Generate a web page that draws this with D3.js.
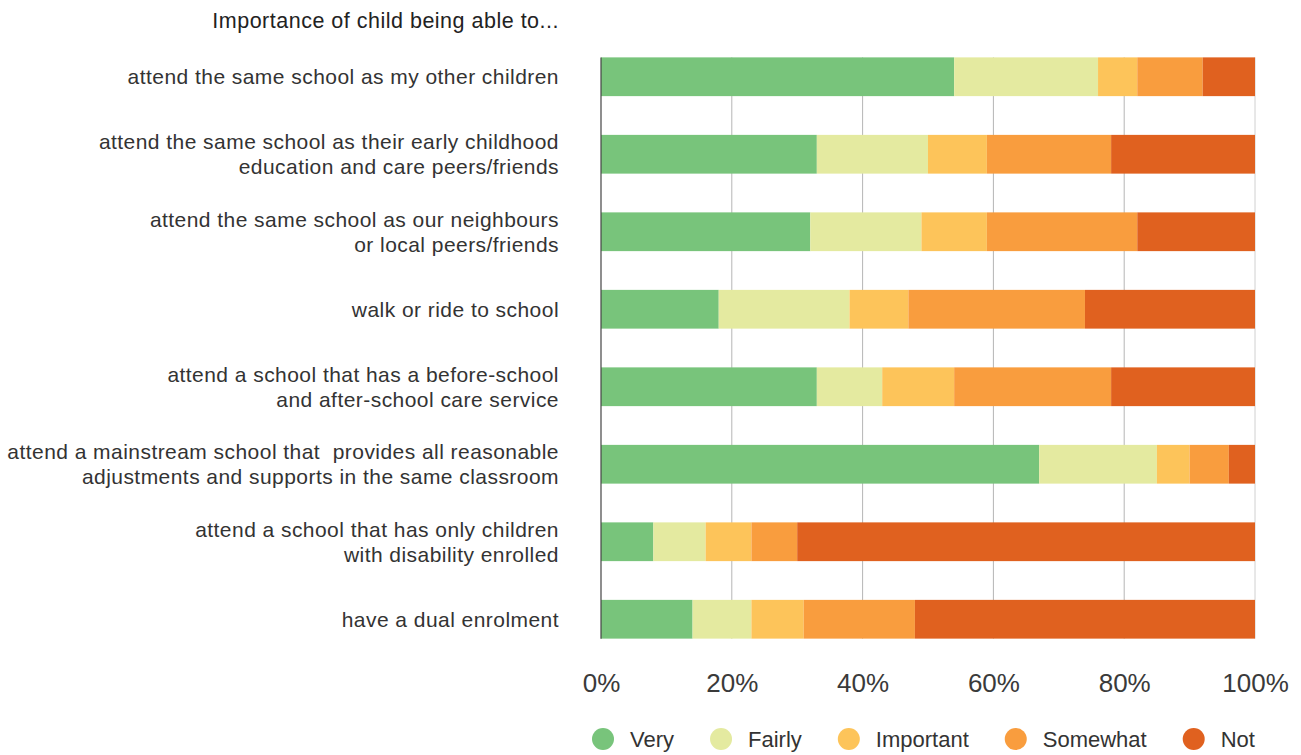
<!DOCTYPE html>
<html>
<head>
<meta charset="utf-8">
<script src="https://cdn.jsdelivr.net/npm/d3@7/dist/d3.min.js"></script>
<style>
  html, body { margin: 0; padding: 0; background: #fff; }
  svg { display: block; font-family: "Liberation Sans", "Helvetica Neue", Arial, sans-serif; }
  .cat tspan { white-space: pre; }
</style>
</head>
<body>
<svg id="chart" width="1301" height="755"></svg>
<script>
// Survey items (each may wrap onto two lines)
const categories = [
  ["attend the same school as my other children"],
  ["attend the same school as their early childhood", "education and care peers/friends"],
  ["attend the same school as our neighbours", "or local peers/friends"],
  ["walk or ride to school"],
  ["attend a school that has a before-school", "and after-school care service"],
  ["attend a mainstream school that  provides all reasonable", "adjustments and supports in the same classroom"],
  ["attend a school that has only children", "with disability enrolled"],
  ["have a dual enrolment"]
];

const seriesNames = ["Very", "Fairly", "Important", "Somewhat", "Not"];

// Share of respondents (%) per item, one array per rating
const very      = [54, 33, 32, 18, 33, 67,  8, 14];
const fairly    = [22, 17, 17, 20, 10, 18,  8,  9];
const important = [ 6,  9, 10,  9, 11,  5,  7,  8];
const somewhat  = [10, 19, 23, 27, 24,  6,  7, 17];
const notImp    = [ 8, 22, 18, 26, 22,  4, 70, 52];

const tickValues = [0, 20, 40, 60, 80, 100];
const tickLabels = ["0%", "20%", "40%", "60%", "80%", "100%"];

const colors = ["#78c47b", "#e4eaa0", "#fdc45a", "#f99d3e", "#e0611f"];

const seriesValues = [very, fairly, important, somewhat, notImp];
const rows = categories.map((c, i) => {
  const r = { idx: i };
  seriesNames.forEach((s, k) => { r[s] = seriesValues[k][i]; });
  return r;
});

const svg = d3.select("#chart");
const plotLeft = 601, plotRight = 1255, plotTop = 38, plotBottom = 658;

const x = d3.scaleLinear().domain([0, 100]).range([plotLeft, plotRight]);
const y = d3.scaleBand().domain(d3.range(categories.length)).range([plotTop, plotBottom])
  .paddingInner(0.5).paddingOuter(0.25);

const gridTop = y(0), gridBottom = y(categories.length - 1) + y.bandwidth();

// Vertical gridlines
svg.append("g").selectAll("line").data(tickValues.slice(1)).join("line")
  .attr("x1", d => x(d)).attr("x2", d => x(d))
  .attr("y1", gridTop).attr("y2", gridBottom)
  .attr("stroke", d => d === 100 ? "#d0d0d0" : "#b5b5b5")
  .attr("stroke-width", 1);

// Stacked bars
const stack = d3.stack().keys(seriesNames);
const layers = stack(rows);
svg.append("g").selectAll("g").data(layers).join("g")
  .attr("fill", (d, i) => colors[i])
  .selectAll("rect").data(d => d).join("rect")
  .attr("x", d => x(d[0]))
  .attr("width", d => x(d[1]) - x(d[0]))
  .attr("y", d => y(d.data.idx))
  .attr("height", y.bandwidth());

// Zero axis line
svg.append("line")
  .attr("x1", x(0)).attr("x2", x(0))
  .attr("y1", gridTop).attr("y2", gridBottom)
  .attr("stroke", "#444").attr("stroke-width", 1.2);

// X tick labels
const xAxis = d3.axisBottom(x).tickValues(tickValues)
  .tickFormat((d, i) => tickLabels[i]).tickSize(0).tickPadding(0);
const gx = svg.append("g").attr("transform", `translate(0, ${gridBottom + 35})`).call(xAxis);
gx.select(".domain").remove();
gx.selectAll("text")
  .attr("font-family", "'Liberation Sans', Arial, sans-serif")
  .attr("font-size", 26).attr("fill", "#3a3a3a").attr("dy", "0.35em").attr("y", 9);

// Category labels
const labelX = 559;
const lineGap = 25;
const labels = svg.append("g").attr("class", "cat").selectAll("text").data(categories).join("text")
  .attr("text-anchor", "end")
  .attr("font-size", 21)
  .attr("letter-spacing", 0.45)
  .attr("fill", "#333");
labels.each(function (lines, i) {
  const cy = y(i) + y.bandwidth() / 2;
  const start = cy - (lines.length - 1) * lineGap / 2;
  d3.select(this).selectAll("tspan").data(lines).join("tspan")
    .attr("x", labelX)
    .attr("y", (d, k) => start + k * lineGap)
    .attr("dy", "0.35em")
    .text(d => d);
});

// Heading
svg.append("text")
  .attr("x", labelX).attr("y", 20).attr("dy", "0.35em")
  .attr("text-anchor", "end")
  .attr("font-size", 21.5).attr("letter-spacing", 0.5).attr("fill", "#222")
  .text("Importance of child being able to...");

// Legend
const legend = svg.append("g").attr("transform", "translate(0, 739)");
let cx = 603;
seriesNames.forEach((name, i) => {
  const g = legend.append("g");
  g.append("circle").attr("cx", cx).attr("cy", 0).attr("r", 11).attr("fill", colors[i]);
  const t = g.append("text").attr("x", cx + 27).attr("y", 0).attr("dy", "0.35em")
    .attr("font-size", 22).attr("fill", "#333").text(name);
  cx += 27 + t.node().getComputedTextLength() + 47;
});
</script>
</body>
</html>
